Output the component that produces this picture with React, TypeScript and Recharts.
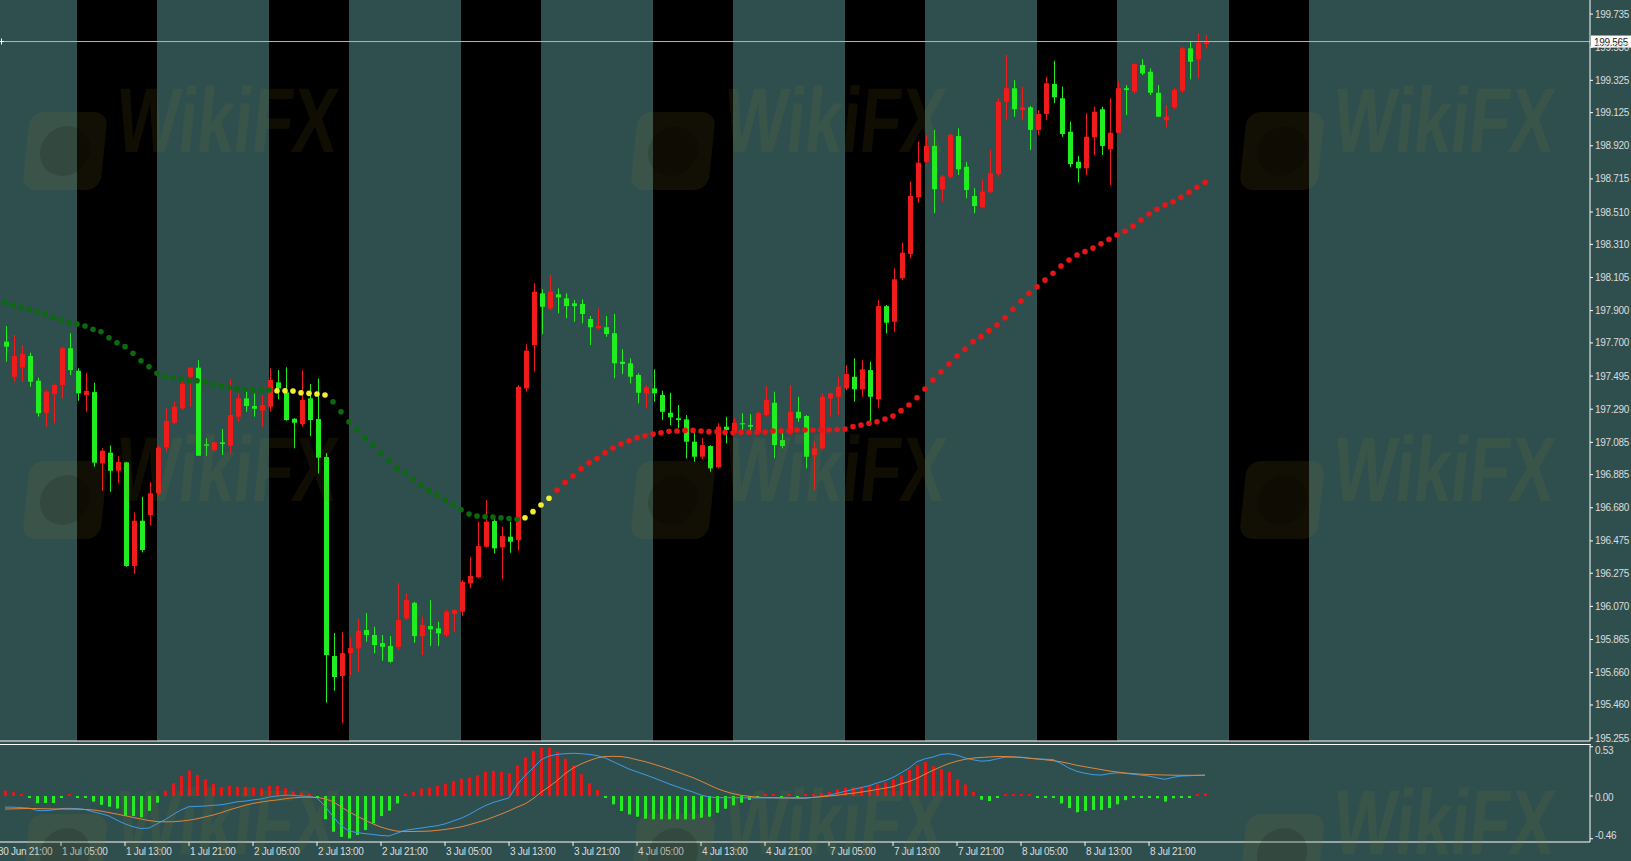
import React from 'react';
import {
  ComposedChart,
  Bar,
  Line,
  XAxis,
  YAxis,
  ReferenceArea,
  ReferenceLine,
  Cell,
} from 'recharts';

// H1 bars, index 0 = 30 Jun 22:00
const timeLabels = [
  '30 Jun 21:00', '1 Jul 05:00', '1 Jul 13:00', '1 Jul 21:00', '2 Jul 05:00', '2 Jul 13:00',
  '2 Jul 21:00', '3 Jul 05:00', '3 Jul 13:00', '3 Jul 21:00', '4 Jul 05:00', '4 Jul 13:00',
  '4 Jul 21:00', '7 Jul 05:00', '7 Jul 13:00', '7 Jul 21:00', '8 Jul 05:00', '8 Jul 13:00',
  '8 Jul 21:00',
];
const timeLabelBars = [-1, 7, 15, 23, 31, 39, 47, 55, 63, 71, 79, 87, 95, 103, 111, 119, 127, 135, 143];

const priceTicks = [
  199.735, 199.53, 199.325, 199.125, 198.92, 198.715, 198.51, 198.31, 198.105, 197.9, 197.7,
  197.495, 197.29, 197.085, 196.885, 196.68, 196.475, 196.275, 196.07, 195.865, 195.66, 195.46,
  195.255,
];
const macdTicks = [0.53, 0, -0.46];
const lastPrice = 199.565;

// session shading (07:00-17:00), first bar index of each session
const sessionStarts = [9, 33, 57, 81, 105, 129, 153];
const SESSION_BARS = 10;

const opens = [
  197.708, 197.491, 197.549, 197.619, 197.466, 197.268, 197.384, 197.44, 197.667, 197.528,
  197.378, 197.396, 196.955, 197.021, 196.909, 196.961, 196.32, 196.6, 196.635, 196.77,
  197.054, 197.206, 197.295, 197.491, 197.547, 197.073, 197.037, 197.085, 197.064, 197.244,
  197.357, 197.31, 197.281, 197.305, 197.456, 197.394, 197.231, 197.198, 197.357, 197.229,
  196.994, 195.763, 195.639, 195.781, 195.81, 195.924, 195.893, 195.843, 195.825, 195.82,
  195.996, 196.092, 195.886, 195.948, 195.934, 195.893, 196.023, 196.037, 196.213, 196.25,
  196.439, 196.598, 196.435, 196.501, 196.481, 197.419, 197.687, 198.007, 197.914, 198.001,
  197.976, 197.945, 197.941, 197.848, 197.791, 197.797, 197.76, 197.584, 197.574, 197.502,
  197.388, 197.419, 197.378, 197.268, 197.234, 197.227, 197.089, 196.996, 197.062, 196.93,
  197.182, 197.144, 197.203, 197.192, 197.144, 197.254, 197.33, 197.099, 197.144, 197.274,
  197.248, 197.006, 197.048, 197.357, 197.367, 197.419, 197.491, 197.413, 197.532, 197.351,
  197.928, 197.831, 198.1, 198.25, 198.601, 198.821, 198.919, 198.651, 198.729, 198.98,
  198.79, 198.609, 198.539, 198.636, 198.745, 199.193, 199.276, 199.141, 199.158, 199.018,
  199.117, 199.302, 199.214, 199.007, 198.821, 198.781, 198.972, 199.146, 198.898, 199.001,
  199.276, 199.255, 199.42, 199.378, 199.248, 199.079, 199.158, 199.261, 199.523, 199.455,
  199.55,
];
const highs = [
  197.805, 197.749, 197.687, 197.64, 197.485, 197.409, 197.45, 197.677, 197.76, 197.543,
  197.516, 197.454, 197.048, 197.064, 197.0, 196.965, 196.652, 196.748, 196.838, 197.064,
  197.295, 197.336, 197.471, 197.549, 197.594, 197.11, 197.089, 197.167, 197.475, 197.388,
  197.419, 197.388, 197.378, 197.543, 197.532, 197.549, 197.234, 197.532, 197.446, 197.481,
  197.019, 195.905, 195.911, 195.874, 195.992, 196.029, 195.944, 195.893, 195.886, 196.213,
  196.151, 196.099, 196.006, 196.109, 195.975, 196.047, 196.052, 196.233, 196.377, 196.594,
  196.728, 196.625, 196.563, 196.594, 197.44, 197.692, 198.069, 198.032, 198.12, 198.038,
  198.007, 197.966, 197.97, 197.867, 197.914, 197.867, 197.879, 197.661, 197.605, 197.512,
  197.44, 197.537, 197.404, 197.392, 197.316, 197.254, 197.151, 197.11, 197.068, 197.203,
  197.244, 197.234, 197.265, 197.26, 197.274, 197.433, 197.398, 197.151, 197.44, 197.367,
  197.254, 197.089, 197.388, 197.392, 197.491, 197.563, 197.605, 197.594, 197.584, 197.966,
  197.935, 198.162, 198.32, 198.698, 198.945, 198.987, 199.018, 198.739, 198.997, 199.028,
  198.821, 198.657, 198.712, 198.894, 199.214, 199.482, 199.327, 199.286, 199.166, 199.141,
  199.347, 199.446, 199.286, 199.069, 198.857, 199.121, 199.162, 199.162, 199.214, 199.316,
  199.296, 199.43, 199.455, 199.399, 199.296, 199.172, 199.276, 199.533, 199.564, 199.616,
  199.605,
];
const lows = [
  197.584, 197.46, 197.46, 197.429, 197.244, 197.182, 197.203, 197.357, 197.502, 197.343,
  197.274, 196.934, 196.786, 196.779, 196.831, 196.315, 196.27, 196.404, 196.573, 196.759,
  197.027, 197.198, 197.285, 197.305, 197.0, 197.0, 197.027, 197.006, 197.017, 197.212,
  197.274, 197.244, 197.182, 197.274, 197.351, 197.219, 197.048, 197.182, 197.124, 196.893,
  195.474, 195.548, 195.346, 195.645, 195.666, 195.851, 195.779, 195.734, 195.721, 195.8,
  195.985, 195.845, 195.769, 195.825, 195.825, 195.882, 195.913, 196.01, 196.182, 196.244,
  196.435, 196.398, 196.237, 196.402, 196.414, 197.398, 197.522, 197.755, 197.904, 197.883,
  197.852, 197.831, 197.821, 197.687, 197.784, 197.738, 197.481, 197.508, 197.45, 197.326,
  197.295, 197.336, 197.223, 197.192, 197.172, 196.986, 196.965, 196.98, 196.903, 196.924,
  197.079, 197.13, 197.151, 197.151, 197.141, 197.244, 196.986, 197.048, 197.13, 197.212,
  196.924, 196.79, 197.037, 197.244, 197.254, 197.409, 197.336, 197.367, 197.212, 197.295,
  197.76, 197.769, 198.089, 198.224, 198.568, 198.812, 198.502, 198.574, 198.719, 198.739,
  198.595, 198.502, 198.533, 198.626, 198.729, 199.079, 199.1, 199.079, 198.894, 198.987,
  199.079, 199.183, 198.976, 198.787, 198.692, 198.739, 198.863, 198.863, 198.677, 198.997,
  199.11, 199.245, 199.358, 199.234, 199.096, 199.034, 199.146, 199.248, 199.331, 199.337,
  199.523,
];
const closes = [
  197.677, 197.619, 197.631, 197.46, 197.265, 197.398, 197.44, 197.667, 197.532, 197.388,
  197.403, 196.959, 197.033, 196.909, 196.963, 196.32, 196.6, 196.419, 196.77, 197.052,
  197.217, 197.305, 197.446, 197.547, 197.002, 197.064, 197.085, 197.075, 197.254, 197.357,
  197.31, 197.293, 197.316, 197.471, 197.419, 197.223, 197.206, 197.347, 197.223, 196.99,
  195.769, 195.633, 195.781, 195.812, 195.919, 195.893, 195.831, 195.82, 195.727, 195.985,
  196.109, 195.886, 195.955, 195.928, 195.903, 196.037, 196.047, 196.222, 196.258, 196.443,
  196.594, 196.429, 196.505, 196.47, 197.429, 197.652, 198.017, 197.924, 198.017, 197.982,
  197.928, 197.928, 197.879, 197.797, 197.805, 197.755, 197.574, 197.57, 197.491, 197.392,
  197.425, 197.388, 197.274, 197.24, 197.223, 197.089, 196.996, 197.068, 196.924, 197.182,
  197.161, 197.206, 197.196, 197.182, 197.265, 197.347, 197.068, 197.062, 197.274, 197.234,
  196.996, 197.048, 197.367, 197.388, 197.429, 197.508, 197.413, 197.537, 197.367, 197.928,
  197.825, 198.094, 198.258, 198.609, 198.815, 198.919, 198.651, 198.729, 198.987, 198.774,
  198.646, 198.547, 198.636, 198.75, 199.193, 199.276, 199.146, 199.158, 199.018, 199.117,
  199.307, 199.22, 198.993, 198.807, 198.781, 198.976, 199.131, 198.919, 199.001, 199.276,
  199.265, 199.426, 199.368, 199.248, 199.1, 199.1, 199.265, 199.523, 199.44, 199.558,
  199.565,
];

// dotted trend average and its state: d = falling, f = flat, u = rising
const maValues = [
  197.949, 197.935, 197.92, 197.908, 197.893, 197.879, 197.859, 197.842, 197.825, 197.817,
  197.805, 197.784, 197.769, 197.732, 197.701, 197.677, 197.636, 197.59, 197.553, 197.512,
  197.491, 197.485, 197.475, 197.466, 197.466, 197.46, 197.446, 197.433, 197.425, 197.417,
  197.413, 197.409, 197.409, 197.409, 197.404, 197.404, 197.403, 197.392, 197.388, 197.384,
  197.378, 197.336, 197.274, 197.212, 197.161, 197.11, 197.068, 197.017, 196.971, 196.924,
  196.895, 196.856, 196.821, 196.786, 196.759, 196.728, 196.697, 196.668, 196.641, 196.629,
  196.625, 196.623, 196.618, 196.614, 196.609, 196.618, 196.656, 196.697, 196.739, 196.79,
  196.838, 196.877, 196.922, 196.959, 196.986, 197.021, 197.05, 197.075, 197.095, 197.114,
  197.126, 197.136, 197.144, 197.153, 197.155, 197.159, 197.159, 197.155, 197.151, 197.151,
  197.147, 197.144, 197.147, 197.147, 197.147, 197.149, 197.155, 197.157, 197.157, 197.161,
  197.161, 197.161, 197.161, 197.161, 197.164, 197.167, 197.182, 197.192, 197.203, 197.212,
  197.229, 197.248, 197.281, 197.316, 197.361, 197.415, 197.471, 197.522, 197.57, 197.619,
  197.661, 197.708, 197.739, 197.776, 197.811, 197.856, 197.908, 197.959, 198.007, 198.048,
  198.089, 198.131, 198.176, 198.213, 198.244, 198.265, 198.287, 198.314, 198.341, 198.368,
  198.391, 198.424, 198.461, 198.498, 198.527, 198.554, 198.574, 198.601, 198.632, 198.663,
  198.694,
];
const maTrend =
  'dddddddddd' + 'dddddddddd' + 'dddddddddd' + 'dddd' + 'fffffff' +
  'dddddddddd' + 'dddddddddd' + 'dddd' + 'ffff' +
  'uuuuuuuuuu' + 'uuuuuuuuuu' + 'uuuuuuuuuu' + 'uuuuuuuuuu' +
  'uuuuuuuuuu' + 'uuuuuuuuuu' + 'uuuuuuuuuu' + 'uuuuuuuuuu' + 'uu';

// lower window
const histValues = [
  0.057, 0.04, 0.01, -0.015, -0.079, -0.075, -0.075, -0.02, 0.005, -0.01,
  -0.005, -0.06, -0.095, -0.115, -0.135, -0.215, -0.215, -0.23, -0.16, -0.072,
  0.057, 0.137, 0.216, 0.274, 0.227, 0.18, 0.13, 0.094, 0.108, 0.1,
  0.1, 0.094, 0.083, 0.108, 0.108, 0.083, 0.047, 0.036, 0.01, -0.014,
  -0.25, -0.385, -0.44, -0.457, -0.42, -0.367, -0.295, -0.216, -0.158, -0.08,
  0.025, 0.043, 0.08, 0.09, 0.108, 0.133, 0.162, 0.187, 0.198, 0.223,
  0.26, 0.27, 0.26, 0.245, 0.33, 0.414, 0.486, 0.522, 0.522, 0.475,
  0.4, 0.33, 0.234, 0.137, 0.065, -0.015, -0.09, -0.162, -0.198, -0.223,
  -0.245, -0.252, -0.252, -0.252, -0.252, -0.252, -0.252, -0.234, -0.223, -0.18,
  -0.137, -0.1, -0.072, -0.043, -0.01, 0.015, 0.005, -0.015, 0.003, -0.005,
  0.008, 0.02, 0.03, 0.046, 0.071, 0.089, 0.093, 0.1, 0.11, 0.124,
  0.145, 0.18, 0.22, 0.28, 0.33, 0.365, 0.32, 0.29, 0.26, 0.18,
  0.124, 0.046, -0.04, -0.055, -0.01, 0.015, 0.015, 0.012, 0.01, -0.005,
  -0.005, -0.01, -0.08, -0.13, -0.175, -0.16, -0.15, -0.15, -0.13, -0.09,
  -0.045, -0.01, -0.005, -0.02, -0.025, -0.06, -0.025, -0.012, -0.005, 0.005,
  0.03,
];
const macdMain = [
  -0.12, -0.12, -0.125, -0.13, -0.155, -0.158, -0.15, -0.135, -0.133, -0.135,
  -0.145, -0.17, -0.19, -0.215, -0.26, -0.3, -0.33, -0.35, -0.345, -0.3,
  -0.255, -0.2, -0.15, -0.115, -0.112, -0.108, -0.1, -0.095, -0.08, -0.062,
  -0.055, -0.042, -0.032, -0.012, 0, 0.008, 0.008, 0, -0.005, -0.02,
  -0.11, -0.22, -0.32, -0.375, -0.395, -0.405, -0.414, -0.425, -0.43, -0.4,
  -0.37, -0.357, -0.345, -0.332, -0.32, -0.3, -0.27, -0.24, -0.2, -0.15,
  -0.105, -0.07, -0.045, -0.02, 0.12, 0.22, 0.3, 0.39, 0.43, 0.448,
  0.455, 0.46, 0.455, 0.448, 0.435, 0.41, 0.37, 0.33, 0.29, 0.26,
  0.23, 0.198, 0.165, 0.13, 0.1, 0.07, 0.043, 0.01, -0.01, -0.018,
  -0.018, -0.018, -0.019, -0.02, -0.02, -0.02, -0.02, -0.022, -0.022, -0.024,
  -0.025, -0.015, -0.005, 0.008, 0.03, 0.05, 0.07, 0.09, 0.11, 0.14,
  0.165, 0.2, 0.25, 0.3, 0.37, 0.4, 0.42, 0.448, 0.455, 0.44,
  0.41, 0.39, 0.375, 0.38, 0.4, 0.418, 0.418, 0.418, 0.405, 0.398,
  0.396, 0.392, 0.35, 0.3, 0.265, 0.245, 0.23, 0.225, 0.24, 0.25,
  0.245, 0.235, 0.225, 0.215, 0.195, 0.18, 0.2, 0.215, 0.218, 0.222,
  0.225,
];
const macdSignal = [
  -0.14, -0.138, -0.136, -0.134, -0.135, -0.137, -0.139, -0.14, -0.141, -0.142,
  -0.145, -0.15, -0.162, -0.178, -0.195, -0.212, -0.23, -0.248, -0.264, -0.275,
  -0.278, -0.277, -0.27, -0.26, -0.245, -0.225, -0.205, -0.18, -0.15, -0.125,
  -0.1, -0.08, -0.065, -0.052, -0.043, -0.03, -0.02, -0.014, -0.013, -0.014,
  -0.03, -0.06, -0.115, -0.17, -0.215, -0.26, -0.3, -0.335, -0.36, -0.378,
  -0.383, -0.382, -0.38, -0.378, -0.37, -0.36, -0.347, -0.332, -0.31, -0.285,
  -0.26, -0.228, -0.195, -0.16, -0.12, -0.085, -0.03, 0.04, 0.1, 0.165,
  0.24, 0.3, 0.345, 0.38, 0.41, 0.425, 0.427, 0.425, 0.412, 0.39,
  0.37, 0.345, 0.318, 0.29, 0.26, 0.228, 0.198, 0.16, 0.12, 0.08,
  0.05, 0.025, 0.008, -0.003, -0.012, -0.017, -0.018, -0.019, -0.02, -0.02,
  -0.02, -0.015, -0.008, 0, 0.008, 0.02, 0.03, 0.042, 0.055, 0.07,
  0.085, 0.1, 0.13, 0.155, 0.19, 0.235, 0.277, 0.315, 0.35, 0.375,
  0.395, 0.408, 0.415, 0.42, 0.425, 0.425, 0.422, 0.415, 0.408, 0.4,
  0.39, 0.38, 0.368, 0.35, 0.33, 0.315, 0.3, 0.285, 0.27, 0.258,
  0.248, 0.24, 0.235, 0.231, 0.228, 0.226, 0.224, 0.223, 0.223, 0.223,
  0.224,
];

const BG = '#2f4f4f';
const UP = '#f01c1c';
const DOWN = '#20ee20';
const TEXT = '#dcdcdc';
const FONT = '"Liberation Sans", Arial, sans-serif';
const X_DOMAIN: [number, number] = [-0.625, 198.125];
const PRICE_DOMAIN: [number, number] = [195.237, 199.822];
const MACD_DOMAIN: [number, number] = [-0.495, 0.549];
const trendColors: Record<string, string> = { d: '#0b6a0e', f: '#f4ee30', u: '#e41616' };

const rows = opens.map((o, i) => ({
  i,
  o,
  h: highs[i],
  l: lows[i],
  c: closes[i],
  ma: maValues[i],
  trend: maTrend[i],
  hist: histValues[i],
  macd: macdMain[i],
  signal: macdSignal[i],
}));

const Candle = (props: any) => {
  const { x, y, width, height, payload } = props;
  if (x == null || y == null) return <g />;
  const { o, h, l, c } = payload;
  const color = c >= o ? UP : DOWN;
  const top = Math.min(y, y + height);
  const span = Math.abs(height);
  const k = span / (h - l || 1);
  const cx = Math.round(x + width / 2) + 0.5;
  const bodyTop = top + (h - Math.max(o, c)) * k;
  const bodyH = Math.max(1, Math.abs(o - c) * k);
  return (
    <g>
      <line x1={cx} x2={cx} y1={top} y2={top + span} stroke={color} strokeWidth={1} />
      <rect x={cx - 2.5} y={bodyTop} width={5} height={bodyH} fill={color} />
    </g>
  );
};

const MaDot = (props: any) => {
  const { cx, cy, payload, index } = props;
  if (cx == null || cy == null) return <g key={`ma-${index}`} />;
  return <circle key={`ma-${index}`} cx={cx} cy={cy} r={2.8} fill={trendColors[payload.trend]} />;
};

const PriceTick = (props: any) => {
  const { x, y, payload } = props;
  return (
    <text x={x} y={y + 3.5} fill={TEXT} fontSize={10} letterSpacing={-0.3} fontFamily={FONT} textAnchor="start">
      {payload.value.toFixed(3)}
    </text>
  );
};

const MacdTick = (props: any) => {
  const { x, y, payload } = props;
  const v = payload.value;
  const dy = v > 0 ? 4 : v < 0 ? -3 : 1.5;
  return (
    <text x={x} y={y + dy + 3.5} fill={TEXT} fontSize={10} letterSpacing={-0.3} fontFamily={FONT} textAnchor="start">
      {v.toFixed(2)}
    </text>
  );
};

const TimeTick = (props: any) => {
  const { x, y, payload } = props;
  const label = timeLabels[timeLabelBars.indexOf(payload.value)];
  return (
    <text x={x + 1} y={y + 7} fill={TEXT} fontSize={10} letterSpacing={-0.3} fontFamily={FONT} textAnchor="start">
      {label}
    </text>
  );
};

const PriceTag = (props: any) => {
  const vb = props.viewBox || {};
  const yy = vb.y;
  const right = vb.x + vb.width;
  return (
    <g>
      <rect x={right + 1} y={yy - 6} width={40} height={12} fill="#ffffff" />
      <text x={right + 4} y={yy + 4} fill="#222" fontSize={10} letterSpacing={-0.3} fontFamily={FONT}>
        {lastPrice.toFixed(3)}
      </text>
      <line x1={0} x2={4} y1={yy} y2={yy} stroke="#fff" />
      <line x1={1.5} x2={1.5} y1={yy - 3} y2={yy + 3} stroke="#fff" />
    </g>
  );
};

const watermarks = [
  { x: 26, y: 88 }, { x: 634, y: 88 }, { x: 1243, y: 88 },
  { x: 26, y: 437 }, { x: 634, y: 437 }, { x: 1243, y: 437 },
  { x: 26, y: 790 }, { x: 634, y: 790 }, { x: 1243, y: 790 },
];

const Watermark = ({ x, y }: { x: number; y: number }) => (
  <>
    <div
      style={{
        position: 'absolute',
        left: x,
        top: y + 24,
        width: 78,
        height: 78,
        borderRadius: 14,
        background: 'rgba(150,125,30,0.12)',
        transform: 'skewX(-6deg)',
      }}
    >
      <div
        style={{
          position: 'absolute',
          left: 14,
          top: 14,
          width: 50,
          height: 50,
          borderRadius: 25,
          background: 'rgba(0,0,0,0.12)',
        }}
      />
    </div>
    <div
      style={{
        position: 'absolute',
        left: x + 96,
        top: y - 14,
        fontFamily: FONT,
        fontWeight: 700,
        fontSize: 92,
        lineHeight: '92px',
        color: 'rgba(150,125,30,0.11)',
        transform: 'scaleX(0.72) skewX(-8deg)',
        transformOrigin: 'left top',
        whiteSpace: 'nowrap',
      }}
    >
      WikiFX
    </div>
  </>
);

export default function App() {
  return (
    <div
      style={{
        position: 'absolute',
        left: 0,
        top: 0,
        width: 1631,
        height: 861,
        background: BG,
        overflow: 'hidden',
        fontFamily: FONT,
      }}
    >
      <div style={{ position: 'absolute', left: 0, top: 0 }}>
        <ComposedChart width={1631} height={742} data={rows} margin={{ top: 0, right: 0, bottom: 0, left: 0 }}>
          <XAxis
            dataKey="i"
            type="number"
            domain={X_DOMAIN}
            allowDataOverflow
            height={1}
            tick={false}
            tickLine={false}
            axisLine={{ stroke: '#fff' }}
          />
          <YAxis
            orientation="right"
            width={41}
            domain={PRICE_DOMAIN}
            allowDataOverflow
            ticks={priceTicks}
            interval={0}
            tickSize={3}
            tickLine={{ stroke: '#fff' }}
            axisLine={{ stroke: '#fff' }}
            tick={PriceTick}
          />
          {sessionStarts.map((s) => (
            <ReferenceArea
              key={s}
              x1={s}
              x2={s + SESSION_BARS}
              fill="#000"
              fillOpacity={1}
              stroke="none"
              ifOverflow="hidden"
            />
          ))}
          <ReferenceLine y={lastPrice} stroke="#b4b4b4" strokeWidth={1} label={PriceTag} />
          <Bar dataKey={(d: any) => [d.l, d.h]} barSize={5} shape={Candle} isAnimationActive={false} />
          <Line dataKey="ma" stroke="none" dot={MaDot} activeDot={false} isAnimationActive={false} />
        </ComposedChart>
      </div>

      <div style={{ position: 'absolute', left: 0, top: 744, width: 1591, height: 1, background: '#fff' }} />

      <div style={{ position: 'absolute', left: 0, top: 745 }}>
        <ComposedChart width={1631} height={116} data={rows} margin={{ top: 0, right: 0, bottom: 0, left: 0 }}>
          <XAxis
            dataKey="i"
            type="number"
            domain={X_DOMAIN}
            allowDataOverflow
            ticks={timeLabelBars}
            interval={0}
            height={19}
            tickSize={4}
            tickLine={{ stroke: '#fff' }}
            axisLine={{ stroke: '#fff' }}
            tick={TimeTick}
          />
          <YAxis
            orientation="right"
            width={41}
            domain={MACD_DOMAIN}
            allowDataOverflow
            ticks={macdTicks}
            interval={0}
            tickSize={3}
            tickLine={{ stroke: '#fff' }}
            axisLine={{ stroke: '#fff' }}
            tick={MacdTick}
          />
          <Bar dataKey="hist" barSize={3} minPointSize={2} isAnimationActive={false}>
            {rows.map((r) => (
              <Cell key={r.i} fill={r.hist >= 0 ? '#e01a1a' : '#22ee22'} />
            ))}
          </Bar>
          <Line dataKey="macd" type="linear" stroke="#3d9be9" strokeWidth={1} dot={false} activeDot={false} isAnimationActive={false} />
          <Line dataKey="signal" type="linear" stroke="#e0853e" strokeWidth={1} dot={false} activeDot={false} isAnimationActive={false} />
        </ComposedChart>
      </div>

      <div style={{ position: 'absolute', left: 0, top: 0, width: 1631, height: 861, pointerEvents: 'none' }}>
        {watermarks.map((w, k) => (
          <Watermark key={k} x={w.x} y={w.y} />
        ))}
      </div>
    </div>
  );
}
